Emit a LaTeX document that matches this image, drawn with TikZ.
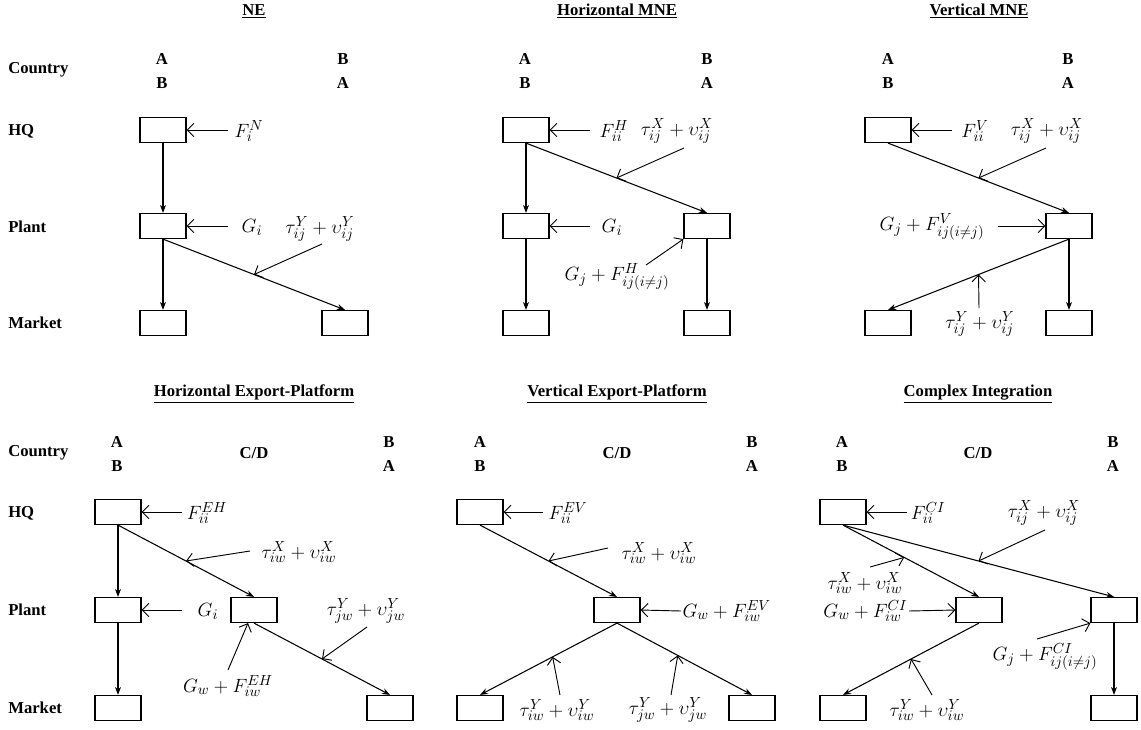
\documentclass[tikz,border=0pt]{standalone}
\usepackage{fontspec}
\setmainfont{Liberation Serif}
\usetikzlibrary{arrows.meta}
\DeclareMathSizes{15}{15}{11}{9}
\newcommand{\eqsize}{\fontsize{15}{17}\selectfont}

\tikzset{
  box/.style={draw, line width=0.9pt, minimum width=34.5pt, minimum height=18.75pt, inner sep=0pt},
  flow/.style={-{Stealth[length=6pt,width=4.5pt]}, line width=0.8pt},
  feed/.style={-{Straight Barb[length=5pt,width=10pt]}, line width=0.7pt},
  ttl/.style={font=\fontsize{12.5}{15}\selectfont\bfseries, inner sep=1pt},
  side/.style={font=\fontsize{12.5}{15}\selectfont\bfseries, anchor=west, inner sep=0pt},
  eq/.style={font=\eqsize, inner sep=1pt}
}

\begin{document}
\begin{tikzpicture}[x=0.75pt,y=0.75pt,yscale=-1,xscale=1]
\useasboundingbox (0,0) rectangle (1141,729);

% Row labels, both halves
\foreach \r/\yc/\yh/\yp/\ym in {1/70/131/227/323, 2/453/513/610/708} {
  \node[side] (cty\r) at (8,\yc) {Country};
  \node[side] (hqt\r) at (8,\yh) {HQ};
  \node[side] (plt\r) at (8,\yp) {Plant};
  \node[side] (mkt\r) at (8,\ym) {Market};
}

% Country letters
\foreach \n/\xl/\xr/\yt/\yb in {1/162/343/59/83, 2/525/707/59/83, 3/888/1068/59/83, 4/117/389/442/466, 5/480/752/442/466, 6/842/1113/442/466} {
  \node[ttl] (al\n) at (\xl,\yt) {A};
  \node[ttl] (bl\n) at (\xl,\yb) {B};
  \node[ttl] (br\n) at (\xr,\yt) {B};
  \node[ttl] (ar\n) at (\xr,\yb) {A};
}
\node[ttl] (cd4) at (254,453) {C/D};
\node[ttl] (cd5) at (617,453) {C/D};
\node[ttl] (cd6) at (978,453) {C/D};

%%%%%%%%%%%%%%%% NE
% Text Node
\node[ttl] (tit1) at (254,11) {\underline{NE}};
%Shape: Rectangle
\node[box] (hq1) at (163,130) {};
\node[box] (pl1) at (163,226) {};
\node[box] (mkL1) at (163,323) {};
\node[box] (mkR1) at (345,323) {};
%Straight Lines
\draw[flow] (hq1) -- (pl1);
\draw[flow] (pl1) -- (mkL1);
\draw[flow] (pl1.south) -- coordinate[pos=0.5] (d1) (mkR1.north);
% Text Node
\node[eq] (fN1) at (249,131) {$F_i^N$};
\node[eq] (gi1) at (252,227) {$G_i$};
\node[eq] (tY1) at (320,229) {$\tau_{ij}^Y+\upsilon_{ij}^Y$};
\coordinate (fN1s) at (228,130);
\coordinate (gi1s) at (228,226);
\coordinate (tY1s) at (322,244);
\draw[feed] (fN1s) -- (hq1.east);
\draw[feed] (gi1s) -- (pl1.east);
\draw[feed] (tY1s) -- (d1);

%%%%%%%%%%%%%%%% Horizontal MNE
% Text Node
\node[ttl] (tit2) at (617,11) {\underline{Horizontal MNE}};
%Shape: Rectangle
\node[box] (hq2) at (526,130) {};
\node[box] (plL2) at (526,226) {};
\node[box] (plR2) at (707,226) {};
\node[box] (mkL2) at (526,323) {};
\node[box] (mkR2) at (707,323) {};
%Straight Lines
\draw[flow] (hq2) -- (plL2);
\draw[flow] (hq2.south) -- coordinate[pos=0.5] (d2) (plR2.north);
\draw[flow] (plL2) -- (mkL2);
\draw[flow] (plR2) -- (mkR2);
% Text Node
\node[eq] (fH2) at (614,131) {$F_{ii}^H$};
\node[eq] (tX2) at (677,131) {$\tau_{ij}^X+\upsilon_{ij}^X$};
\node[eq] (gi2) at (612,227) {$G_i$};
\node[eq] (gF2) at (617,277) {$G_j+F_{ij(i\neq j)}^H$};
\coordinate (fH2s) at (590,130);
\coordinate (tX2s) at (684,148);
\coordinate (gi2s) at (590,226);
\coordinate (gF2s) at (646,265);
\draw[feed] (fH2s) -- (hq2.east);
\draw[feed] (tX2s) -- (d2);
\draw[feed] (gi2s) -- (plL2.east);
\draw[feed] (gF2s) -- (plR2.south west);

%%%%%%%%%%%%%%%% Vertical MNE
% Text Node
\node[ttl] (tit3) at (979,11) {\underline{Vertical MNE}};
%Shape: Rectangle
\node[box] (hq3) at (888,130) {};
\node[box] (plR3) at (1069,226) {};
\node[box] (mkL3) at (888,323) {};
\node[box] (mkR3) at (1069,323) {};
%Straight Lines
\draw[flow] (hq3.south) -- coordinate[pos=0.5] (d3) (plR3.north);
\draw[flow] (plR3) -- (mkR3);
\draw[flow] (plR3.south) -- coordinate[pos=0.5] (e3) (mkL3.north);
% Text Node
\node[eq] (fV3) at (975,131) {$F_{ii}^V$};
\node[eq] (tX3) at (1047,131) {$\tau_{ij}^X+\upsilon_{ij}^X$};
\node[eq] (gF3) at (932,227) {$G_j+F_{ij(i\neq j)}^V$};
\node[eq] (tY3) at (980,324) {$\tau_{ij}^Y+\upsilon_{ij}^Y$};
\coordinate (fV3s) at (952,130);
\coordinate (tX3s) at (1046,148);
\coordinate (gF3s) at (998,226);
\coordinate (tY3s) at (979,308);
\draw[feed] (fV3s) -- (hq3.east);
\draw[feed] (tX3s) -- (d3);
\draw[feed] (gF3s) -- (plR3.west);
\draw[feed] (tY3s) -- (e3);

%%%%%%%%%%%%%%%% Horizontal Export-Platform
% Text Node
\node[ttl] (tit4) at (254,394) {\underline{Horizontal Export-Platform}};
%Shape: Rectangle
\node[box] (hq4) at (118,512) {};
\node[box] (plL4) at (118,610) {};
\node[box] (plC4) at (254,610) {};
\node[box] (mkL4) at (118,708) {};
\node[box] (mkR4) at (390,708) {};
%Straight Lines
\draw[flow] (hq4) -- (plL4);
\draw[flow] (plL4) -- (mkL4);
\draw[flow] (hq4.south) -- coordinate[pos=0.5] (d4) (plC4.north);
\draw[flow] (plC4.south) -- coordinate[pos=0.5] (e4) (mkR4.north);
% Text Node
\node[eq] (fEH4) at (207,513) {$F_{ii}^{EH}$};
\node[eq] (tX4) at (299,552) {$\tau_{iw}^X+\upsilon_{iw}^X$};
\node[eq] (gi4) at (208,611) {$G_i$};
\node[eq] (gF4) at (228,686) {$G_w+F_{iw}^{EH}$};
\node[eq] (tY4) at (366,611) {$\tau_{jw}^Y+\upsilon_{jw}^Y$};
\coordinate (fEH4s) at (182,512);
\coordinate (tX4s) at (250,551);
\coordinate (gi4s) at (182,610);
\coordinate (gF4s) at (228,670);
\coordinate (tY4s) at (367,627);
\draw[feed] (fEH4s) -- (hq4.east);
\draw[feed] (tX4s) -- (d4);
\draw[feed] (gi4s) -- (plL4.east);
\draw[feed] (gF4s) -- ([xshift=-4.5pt]plC4.south);
\draw[feed] (tY4s) -- (e4);

%%%%%%%%%%%%%%%% Vertical Export-Platform
% Text Node
\node[ttl] (tit5) at (617,394) {\underline{Vertical Export-Platform}};
%Shape: Rectangle
\node[box] (hq5) at (480,512) {};
\node[box] (plC5) at (617,610) {};
\node[box] (mkL5) at (480,708) {};
\node[box] (mkR5) at (752,708) {};
%Straight Lines
\draw[flow] (hq5.south) -- coordinate[pos=0.5] (d5) (plC5.north);
\draw[flow] (plC5.south) -- coordinate[pos=0.47] (e5) (mkL5.north);
\draw[flow] (plC5.south) -- coordinate[pos=0.45] (f5) (mkR5.north);
% Text Node
\node[eq] (fEV5) at (568,513) {$F_{ii}^{EV}$};
\node[eq] (tX5) at (659,553) {$\tau_{iw}^X+\upsilon_{iw}^X$};
\node[eq, anchor=west] (gF5) at (681,611) {$G_w+F_{iw}^{EV}$};
\node[eq] (tYi5) at (557,710) {$\tau_{iw}^Y+\upsilon_{iw}^Y$};
\node[eq] (tYj5) at (668,710) {$\tau_{jw}^Y+\upsilon_{jw}^Y$};
\coordinate (fEV5s) at (543,512);
\coordinate (tX5s) at (608,548);
\coordinate (tYi5s) at (560,695);
\coordinate (tYj5s) at (671,695);
\draw[feed] (fEV5s) -- (hq5.east);
\draw[feed] (tX5s) -- (d5);
\draw[feed] (gF5.west) -- (plC5.east);
\draw[feed] (tYi5s) -- (e5);
\draw[feed] (tYj5s) -- (f5);

%%%%%%%%%%%%%%%% Complex Integration
% Text Node
\node[ttl] (tit6) at (978,394) {\underline{Complex Integration}};
%Shape: Rectangle
\node[box] (hq6) at (843,512) {};
\node[box] (plC6) at (979,610) {};
\node[box] (plR6) at (1114,610) {};
\node[box] (mkL6) at (843,708) {};
\node[box] (mkR6) at (1114,708) {};
%Straight Lines
\draw[flow] (hq6.south) -- coordinate[pos=0.45] (d6) (plC6.north);
\draw[flow] (hq6.south) -- coordinate[pos=0.5] (g6) (plR6.north);
\draw[flow] (plC6.south) -- coordinate[pos=0.5] (e6) (mkL6.north);
\draw[flow] (plR6) -- (mkR6);
% Text Node
\node[eq] (fCI6) at (928,513) {$F_{ii}^{CI}$};
\node[eq] (tXj6) at (1044,513) {$\tau_{ij}^X+\upsilon_{ij}^X$};
\node[eq] (tXw6) at (865,583) {$\tau_{iw}^X+\upsilon_{iw}^X$};
\node[eq, anchor=east] (gF6) at (909,611) {$G_w+F_{iw}^{CI}$};
\node[eq] (gFj6) at (1045,657) {$G_j+F_{ij(i\neq j)}^{CI}$};
\node[eq] (tY6) at (927,710) {$\tau_{iw}^Y+\upsilon_{iw}^Y$};
\coordinate (fCI6s) at (907,512);
\coordinate (tXj6s) at (1045,530);
\coordinate (tXw6s) at (870,567);
\coordinate (gFj6s) at (1037,639);
\coordinate (tY6s) at (932,695);
\draw[feed] (fCI6s) -- (hq6.east);
\draw[feed] (tXj6s) -- (g6);
\draw[feed] (tXw6s) -- (d6);
\draw[feed] (gF6.east) -- (plC6.west);
\draw[feed] (gFj6s) -- (plR6.south west);
\draw[feed] (tY6s) -- (e6);

\end{tikzpicture}
\end{document}
